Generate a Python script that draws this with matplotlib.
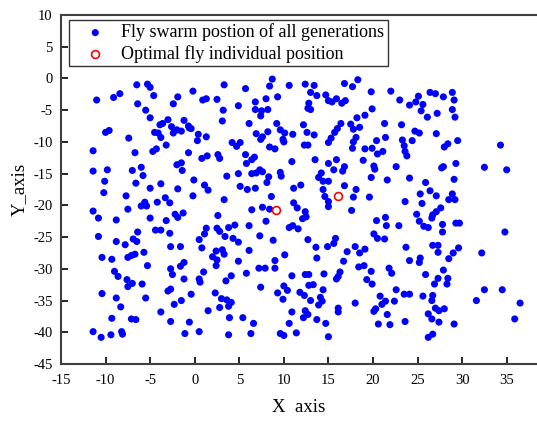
import matplotlib
matplotlib.use("Agg")
import matplotlib.pyplot as plt

plt.rcParams['font.family'] = ['Liberation Serif', 'DejaVu Serif']
plt.rcParams['axes.unicode_minus'] = False

# swarm positions, upper half (y > -20)
upper_x = [-6.5, -5.3, -5.0, -11.0, -9.1, -8.4, -4.6, -1.9, -2.4, -6.4, -5.5, -5.0, -3.9, -3.6, -3.0,
           -1.2, -2.6, -0.7, -0.6, -10.0, -9.6, -4.5, -4.1, -3.8, -2.4, -2.0, -1.5, -7.4, -3.2, -11.4,
           -6.7, -4.7, -4.3, -0.7, -11.4, -9.8, -7.0, -6.0, -5.8, -2.0, -1.5, -1.4, -10.1, -6.6, -3.8,
           -5.0, -1.9, -10.2, -7.7, -3.3, -5.6, -4.2, -2.8,
           -0.2, 8.7, 8.4, 10.6, 3.3, 5.7, 0.9, 1.3, 2.5, 9.3, 8.0, 6.8, 4.9, 3.2, 6.8, 7.5, 8.2, 7.4,
           3.1, 6.1, 9.2, 9.6, 10.1, 11.0, 6.9, 7.6, 8.2, 7.4, 9.9, 10.0, -0.4, 0.4, 1.3, 0.3, 4.2, 4.7,
           5.1, 8.4, 9.0, 0.8, 1.4, 2.6, 2.8, 5.7, 6.7, 6.4, 5.8, 10.9, 7.3, 7.6, 6.9, 6.4, 4.9, 3.6,
           8.3, 8.1, 9.6, 9.7, -0.1, 1.1, 1.5, 5.1, 5.9, 6.8, 11.1, 8.6, -0.2, 3.3, 11.1,
           12.4, 13.4, 16.8, 17.7, 18.3, 13.0, 13.7, 14.7, 15.0, 15.4, 15.9, 16.5, 16.9, 19.8, 22.0,
           23.0, 12.8, 12.7, 13.0, 19.1, 18.2, 19.9, 12.2, 21.3, 16.4, 17.5, 17.8, 18.5, 16.0, 15.7,
           15.3, 15.0, 12.6, 13.4, 12.3, 12.7, 18.1, 17.8, 17.7, 19.1, 19.9, 20.4, 21.4, 20.5, 21.1,
           13.5, 15.0, 15.9, 16.8, 16.6, 15.6, 18.9, 20.1, 20.2, 19.8, 22.6, 14.2, 13.9, 14.4, 15.0,
           21.6, 11.9, 16.8, 18.1, 14.4, 14.6, 15.0, 17.8, 19.6,
           24.1, 24.8, 25.1, 25.6, 25.4, 26.1, 26.4, 27.0, 27.9, 28.9, 29.1, 28.9, 29.2, 27.2, 23.2,
           24.7, 25.2, 27.1, 23.3, 23.5, 24.4, 23.6, 23.8, 28.0, 28.4, 29.5, 34.3, 32.5, 35.0, 27.7,
           27.9, 29.3, 24.1, 25.9, 29.1, 26.4, 27.1, 25.3, 28.9, 28.5, 29.2, 23.6, 25.5]
upper_y = [-1.0, -0.9, -1.4, -3.4, -3.0, -2.4, -2.7, -2.9, -4.0, -4.0, -5.0, -6.2, -7.3, -7.1, -6.5,
           -6.6, -7.6, -7.5, -7.8, -8.5, -8.2, -8.5, -8.6, -9.3, -8.6, -8.1, -8.3, -9.4, -10.5, -11.4,
           -11.7, -11.5, -11.1, -11.7, -14.6, -14.4, -14.5, -14.0, -15.3, -13.6, -13.3, -14.5, -16.2, -16.5, -16.6,
           -17.3, -17.4, -18.0, -18.5, -18.8, -19.5, -19.5, -19.6,
           -2.0, -0.1, -1.2, -1.1, -1.0, -1.6, -3.4, -3.2, -3.3, -2.9, -3.2, -3.7, -4.3, -5.0, -4.9, -5.1, -4.9, -5.9,
           -6.7, -7.1, -7.1, -8.1, -8.6, -8.8, -8.7, -9.2, -8.4, -9.6, -9.6, -10.0, -7.9, -8.8, -9.2, -9.8, -10.1, -10.7,
           -10.1, -10.8, -11.1, -12.6, -12.2, -12.0, -12.6, -12.0, -12.4, -12.8, -13.4, -13.1, -14.4, -14.7, -14.9, -15.0, -15.0, -15.4,
           -15.5, -16.4, -14.8, -15.4, -16.0, -16.8, -17.6, -17.0, -17.5, -17.3, -17.3, -18.6, -18.5, -19.1, -19.6,
           -0.9, -1.1, -0.8, -1.3, -0.2, -2.2, -2.7, -2.6, -3.5, -3.7, -3.2, -3.9, -3.5, -2.1, -2.0,
           -3.4, -3.9, -4.7, -4.9, -5.8, -6.2, -4.8, -7.3, -7.1, -7.1, -7.2, -8.0, -7.7, -7.9, -8.5,
           -9.4, -10.1, -8.5, -8.9, -10.5, -10.5, -9.3, -10.0, -11.0, -11.1, -11.0, -9.8, -9.3, -11.9, -11.5,
           -12.8, -13.4, -12.8, -13.9, -14.6, -14.4, -12.9, -13.8, -14.3, -15.6, -13.9, -14.9, -15.6, -16.2, -16.2,
           -16.0, -16.8, -16.9, -17.5, -17.5, -18.6, -19.4, -18.7, -18.7,
           -4.2, -3.7, -2.8, -4.1, -5.1, -6.1, -2.2, -2.4, -2.9, -2.2, -3.4, -4.9, -6.1, -5.5, -7.3,
           -8.3, -8.6, -8.7, -9.7, -10.6, -9.8, -11.5, -12.2, -10.8, -10.3, -9.8, -10.5, -14.0, -14.4, -14.1,
           -13.9, -13.4, -15.7, -16.4, -15.9, -17.7, -18.5, -18.2, -18.2, -19.1, -19.1, -19.4, -19.7]

# swarm positions, lower half (y < -20)
lower_x = [-11.4, -7.5, -6.0, -5.4, -10.8, -8.8, -5.0, -3.2, -2.2, -1.9, -1.3, -4.4, -3.8, -2.8, -6.4,
           -10.8, -8.8, -7.8, -6.9, -6.5, -2.7, -1.6, -10.4, -9.3, -7.5, -7.1, -6.7, -5.7, -5.3, -2.7,
           -2.5, -1.6, -1.2, -1.2, -9.0, -8.6, -7.6, -7.5, -7.0, -5.9, -3.0, -2.7, -10.4, -8.8, -5.5,
           -8.3, -3.8, -2.3, -1.5, -9.3, -7.1, -6.6, -2.7, -0.6, -11.4, -10.5, -9.4, -8.2, -8.1, -1.1,
           6.4, 7.6, 8.4, 2.6, 8.0, 6.1, 1.3, 1.1, 0.5, 2.5, 2.8, 3.8, 4.5, 3.4, 4.3, 4.9, 7.3, 8.8,
           10.6, 11.0, 0.8, 2.4, 3.1, 3.3, 2.0, 2.5, 2.4, 6.1, 10.1, 4.9, 9.0, 9.0, 7.2, 7.9, 1.0, 0.5,
           0.6, 4.1, 3.5, 5.8, 10.9, 7.4, 10.0, 10.4, 9.3, 9.9, -0.4, 2.3, 3.0, 3.6, 4.1, 3.8, 2.8,
           1.5, 10.9, 3.9, 5.4, 6.6, 10.6, 0.5, 3.8, 6.3, 9.6, 10.0,
           11.5, 12.4, 12.5, 12.1, 15.0, 17.6, 20.4, 21.4, 21.5, 22.9, 11.6, 12.7, 20.1, 20.5, 21.3,
           13.6, 13.7, 14.9, 15.6, 15.8, 17.1, 18.0, 18.5, 19.1, 16.7, 12.4, 12.8, 14.5, 16.3, 16.1,
           15.9, 18.4, 19.0, 19.8, 21.8, 22.1, 19.3, 19.9, 12.8, 13.3, 14.4, 11.8, 12.3, 13.0, 14.1,
           14.3, 13.9, 22.6, 20.8, 21.0, 21.4, 22.4, 18.0, 16.1, 16.1, 20.3, 20.1, 12.4, 12.7, 12.2,
           13.7, 14.7, 21.6, 20.6, 21.9, 11.4, 15.0,
           24.9, 27.6, 27.1, 26.7, 26.6, 25.2, 25.7, 26.2, 27.8, 27.8, 29.3, 29.7, 34.8, 23.7, 26.7,
           27.3, 27.3, 28.5, 29.0, 29.6, 32.2, 24.1, 25.3, 25.2, 27.9, 25.9, 27.3, 26.9, 28.4, 28.3,
           32.5, 34.5, 31.6, 36.5, 23.5, 24.1, 25.6, 26.7, 26.6, 27.0, 27.4, 28.0, 26.2, 26.6, 27.4,
           29.1, 23.6, 35.9, 26.2, 26.7]
lower_y = [-20.9, -20.6, -20.1, -20.1, -22.0, -22.3, -22.0, -22.4, -21.4, -21.9, -21.2, -23.9, -23.9, -24.4, -24.2,
           -24.9, -25.7, -26.2, -25.3, -25.7, -26.5, -26.5, -28.2, -28.5, -28.2, -27.9, -27.7, -27.4, -29.5, -30.0,
           -30.9, -29.6, -29.0, -31.6, -30.4, -31.2, -31.7, -32.8, -32.3, -32.4, -33.5, -33.2, -33.9, -34.6, -34.6,
           -36.0, -36.8, -35.6, -35.0, -37.8, -37.9, -38.0, -38.3, -38.4, -39.9, -40.8, -40.4, -39.9, -40.3, -40.2,
           -20.7, -20.3, -20.6, -21.6, -22.5, -23.2, -23.6, -24.5, -25.4, -23.6, -24.1, -23.5, -23.1, -24.9, -25.2, -25.8, -24.8, -25.5,
           -23.5, -23.2, -26.7, -27.2, -27.0, -27.7, -28.1, -28.6, -29.5, -27.1, -27.8, -28.8, -28.7, -29.9, -29.9, -29.9, -30.5, -31.6,
           -32.1, -31.1, -31.9, -30.7, -31.1, -32.9, -32.7, -33.4, -33.8, -34.8, -34.0, -33.8, -34.7, -34.9, -35.3, -35.9, -36.1,
           -36.6, -36.8, -37.7, -37.7, -38.6, -38.6, -39.9, -40.4, -40.2, -40.2, -40.5,
           -20.4, -21.0, -21.8, -22.1, -20.2, -20.8, -22.4, -21.9, -23.2, -23.2, -23.7, -25.4, -24.5, -25.2, -25.3,
           -26.6, -28.3, -26.5, -26.0, -25.2, -27.3, -26.5, -27.5, -26.9, -28.8, -30.9, -30.9, -30.8, -30.5, -31.2,
           -31.6, -29.7, -29.5, -30.4, -29.9, -30.7, -31.7, -32.4, -32.6, -32.5, -33.3, -33.7, -34.2, -35.0, -34.5,
           -35.1, -35.7, -33.3, -34.3, -35.6, -35.1, -35.1, -35.4, -36.2, -36.8, -36.3, -36.7, -36.6, -37.2, -37.7,
           -38.0, -38.6, -37.2, -38.7, -38.8, -40.1, -40.7,
           -21.4, -20.4, -21.0, -21.5, -22.0, -22.5, -23.3, -23.5, -23.0, -24.2, -22.8, -22.8, -24.2, -26.6, -26.3,
           -26.3, -27.4, -28.4, -27.5, -26.7, -27.5, -28.7, -28.3, -29.0, -30.2, -30.9, -31.5, -32.4, -31.5, -32.4,
           -33.3, -33.3, -35.0, -35.4, -34.0, -34.0, -34.3, -34.2, -35.0, -36.2, -36.6, -36.3, -37.1, -37.9, -38.4,
           -38.7, -38.3, -37.9, -40.8, -40.3]

best_x = [9.1, 16.1]
best_y = [-20.8, -18.5]

fig = plt.figure(figsize=(5.37, 4.21), dpi=100)
ax = fig.add_axes([0.1136, 0.1354, 0.8864, 0.829])

ax.scatter(upper_x + lower_x, upper_y + lower_y, s=26, c='#0000ff', edgecolors='none',
           label='Fly swarm postion of all generations', zorder=2)
ax.scatter(best_x, best_y, s=32, facecolors='white', edgecolors='#ff0000', linewidths=1.2,
           label='Optimal fly individual position', zorder=3)

ax.set_xlim(-15, 38.4)
ax.set_ylim(-45, 10)
ax.set_xticks(range(-15, 36, 5))
ax.set_yticks(range(-45, 11, 5))
ax.tick_params(direction='in', length=5, width=1.2, labelsize=10.5, top=False, right=False)
ax.tick_params(axis='x', pad=7)
ax.tick_params(axis='y', pad=6)
for side in ['left', 'bottom', 'top']:
    ax.spines[side].set_linewidth(1.5)
    ax.spines[side].set_color('#404040')
ax.spines['right'].set_visible(False)

ax.set_xlabel('X  axis', fontsize=13.5, labelpad=9)
ax.set_ylabel('Y_axis', fontsize=13.5, labelpad=4)

leg = ax.legend(loc='upper left', bbox_to_anchor=(0.017, 0.986), borderaxespad=0,
                fontsize=13, frameon=True, fancybox=False, edgecolor='black',
                handletextpad=0.2, borderpad=0.2, labelspacing=0.2, handlelength=2.5)
leg.get_frame().set_linewidth(1.0)

fig.savefig('out.png', dpi=100)
